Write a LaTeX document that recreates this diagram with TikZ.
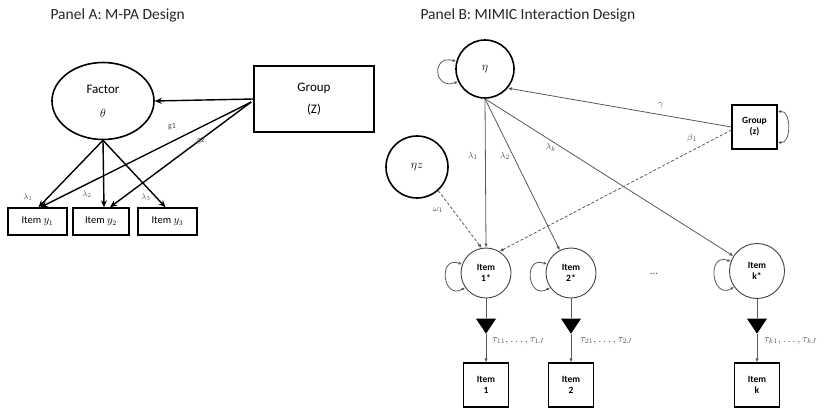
\documentclass[tikz,border=0pt]{standalone}
\usepackage{fontspec}
\setmainfont{Carlito}
\usetikzlibrary{shapes.geometric,arrows.meta,calc}
\begin{document}
\begin{tikzpicture}[x=1pt,y=-1pt,
  title/.style={anchor=west,font=\fontsize{15.5}{17}\selectfont,text=black!85},
  boxA/.style={draw,line width=1.5pt,inner sep=0pt,minimum height=27pt,font=\fontsize{10.5}{12}\selectfont},
  arrA/.style={line width=1.4pt,-{Stealth[length=7pt,width=6pt]}},
  lblA/.style={font=\fontsize{8}{9}\selectfont,text=black!70,inner sep=0pt},
  circB/.style={circle,draw,line width=1.6pt,inner sep=0pt},
  itemB/.style={circle,draw=black!75,line width=0.9pt,inner sep=0pt,minimum size=50pt,align=center,font=\bfseries\fontsize{9.5}{11}\selectfont},
  boxB/.style={draw,line width=1.3pt,inner sep=0pt,minimum width=45pt,minimum height=44pt,align=center,font=\bfseries\fontsize{9.5}{11}\selectfont},
  arrB/.style={draw=black!65,line width=0.8pt,-{Latex[length=4pt,width=3.5pt]}},
  dashB/.style={arrB,dash pattern=on 3pt off 2pt},
  loopB/.style={draw=black!65,line width=0.8pt,{Latex[length=3.5pt,width=3pt]}-{Latex[length=3.5pt,width=3pt]}},
  tri/.style={isosceles triangle,shape border rotate=-90,fill=black,inner sep=0pt,isosceles triangle stretches,minimum width=20pt,minimum height=15pt},
  lblB/.style={font=\fontsize{9.5}{10}\selectfont,text=black!70,inner sep=0pt}
]
\useasboundingbox (0,0) rectangle (830,410);

% ---------------- Panel A ----------------
\node[title] (ta) at (47,15) {Panel A: M-PA Design};
\node[ellipse,draw,line width=1.6pt,minimum width=102pt,minimum height=77pt,inner sep=0pt,align=center,font=\fontsize{13}{22}\selectfont] (factor) at (103,101) {Factor\\[2pt]$\theta$};
\node[draw,line width=1.6pt,minimum width=120pt,minimum height=66pt,inner sep=0pt,align=center,font=\fontsize{13}{22}\selectfont] (groupA) at (314,99) {Group\\(Z)};
\node[boxA,minimum width=59pt] (y1) at (37.5,221.5) {Item $y_1$};
\node[boxA,minimum width=56pt] (y2) at (101,221.5) {Item $y_2$};
\node[boxA,minimum width=59pt] (y3) at (167.5,221.5) {Item $y_3$};
\coordinate (gA) at ($(groupA.west)+(-2,3)$);
\draw[arrA] (groupA.west) -- (factor.east);
\draw[arrA] (factor.south) -- ($(y1.north)+(1,0)$);
\draw[arrA] (factor.south) -- ($(y2.north)+(3,0)$);
\draw[arrA] (factor.south) -- ($(y3.north)+(-2,0)$);
\draw[arrA] (gA) -- ($(y1.north)+(3,0)$);
\draw[arrA] (gA) -- ($(y2.north)+(9,0)$);
\node[lblA] (l1) at (28,197) {$\lambda_1$};
\node[lblA] (l2) at (87,194) {$\lambda_2$};
\node[lblA] (l3) at (146,197) {$\lambda_3$};
\node[lblA] (g1) at (172,127) {g1};
\node[lblA] (g2) at (201,141) {g2};

% ---------------- Panel B ----------------
\node[title] (tb) at (417,15) {Panel B: MIMIC Interaction Design};
\node[circB,minimum size=58pt,font=\fontsize{13}{14}\selectfont] (eta) at (485,69) {$\eta$};
\node[circB,minimum size=62pt,font=\fontsize{12}{14}\selectfont] (etaz) at (417,167) {$\eta z$};
\node[boxB] (groupB) at (754.5,127) {Group\\(z)};
\node[itemB] (i1) at (486,273) {Item\\1*};
\node[itemB] (i2) at (571,273) {Item\\2*};
\node[itemB,minimum size=55pt] (ik) at (757,271) {Item\\k*};
\node[lblB,font=\fontsize{11}{12}\selectfont] (dots) at (654,274) {...};
\node[tri] (t1) at (486,324) {};
\node[tri] (t2) at (571,324) {};
\node[tri] (tk) at (757,324) {};
\node[boxB] (b1) at (486,385) {Item\\1};
\node[boxB] (b2) at (571,385) {Item\\2};
\node[boxB] (bk) at (757,385) {Item\\k};

% loops
\draw[loopB] (eta.165) .. controls +(165:26pt) and +(200:26pt) .. (eta.205);
\draw[loopB] (i1.160) .. controls +(160:26pt) and +(210:26pt) .. (i1.215);
\draw[loopB] (i2.160) .. controls +(160:26pt) and +(210:26pt) .. (i2.215);
\draw[loopB] (ik.160) .. controls +(160:26pt) and +(210:26pt) .. (ik.215);
\draw[loopB] (groupB.33) .. controls +(10:14pt) and +(-10:14pt) .. (groupB.-33);

% structural paths
\draw[arrB] (eta.south) -- (i1.north);
\draw[arrB] (eta.south) -- (i2);
\draw[arrB] (eta.south) -- (ik);
\draw[arrB] (groupB.west) -- (eta.-40);
\draw[dashB] ($(groupB.west)+(0,3)$) -- (i1.58);
\draw[dashB] (etaz.-48) -- (i1.100);

% thresholds
\draw[draw=black!65,line width=0.8pt] (i1) -- (t1);
\draw[draw=black!65,line width=0.8pt] (i2) -- (t2);
\draw[draw=black!65,line width=0.8pt] (ik) -- (tk);
\draw[arrB] (t1) -- (b1);
\draw[arrB] (t2) -- (b2);
\draw[arrB] (tk) -- (bk);

% labels
\node[lblB] (la1) at (473,156) {$\lambda_1$};
\node[lblB] (la2) at (505,156) {$\lambda_2$};
\node[lblB] (lak) at (551,147) {$\lambda_k$};
\node[lblB] (gam) at (661,105) {$\gamma$};
\node[lblB] (bet) at (692,138) {$\beta_1$};
\node[lblB] (om) at (438,210) {$\omega_1$};
\node[lblB,anchor=west,font=\fontsize{10.5}{11}\selectfont] (tau1) at (492,341) {$\tau_{11},\ldots,\tau_{1J}$};
\node[lblB,anchor=west,font=\fontsize{10.5}{11}\selectfont] (tau2) at (580,341) {$\tau_{21},\ldots,\tau_{2J}$};
\node[lblB,anchor=west,font=\fontsize{10.5}{11}\selectfont] (tauk) at (764,341) {$\tau_{k1},\ldots,\tau_{kJ}$};
\end{tikzpicture}
\end{document}
